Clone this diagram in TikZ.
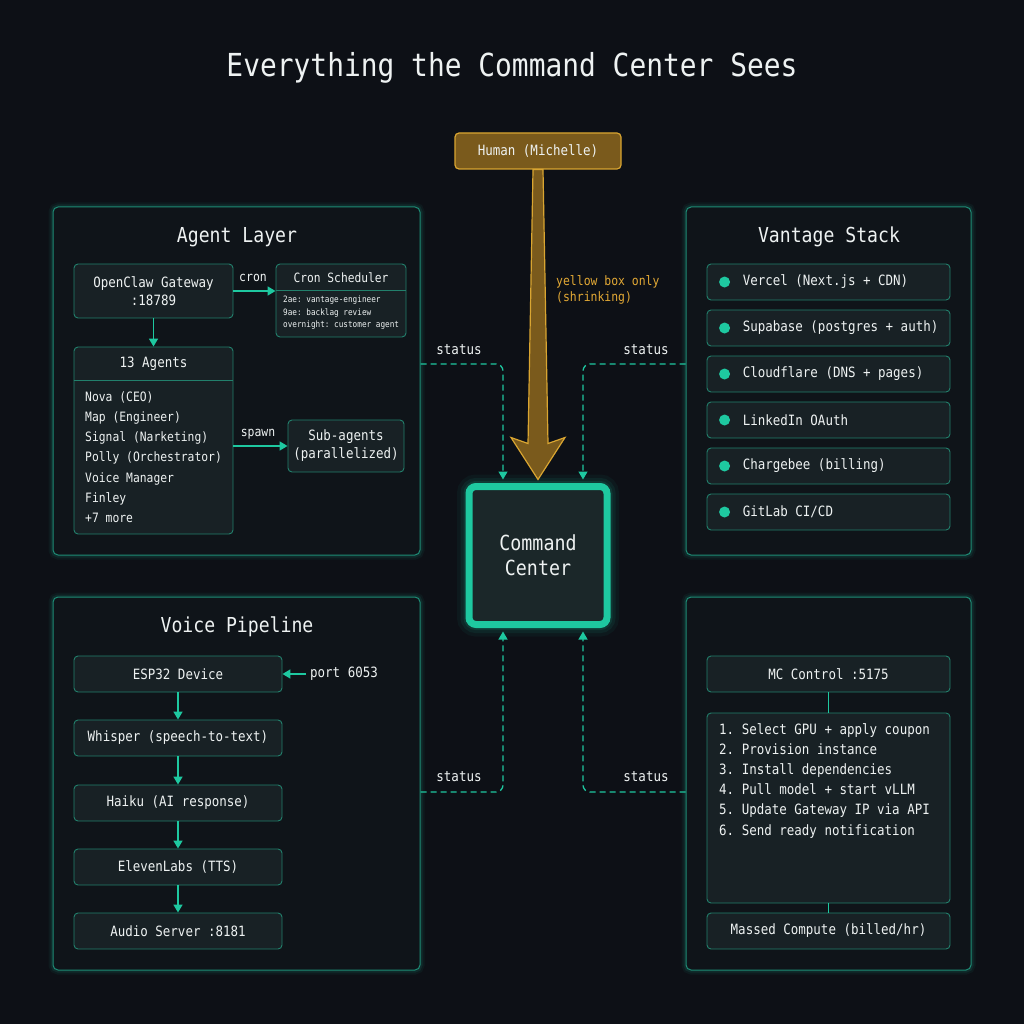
\documentclass[tikz,border=0pt]{standalone}
\usepackage{fontspec}
\setmainfont{DejaVu Sans Mono}[FakeStretch=0.88]
\usetikzlibrary{arrows.meta}
\frenchspacing
\definecolor{bgdark}{HTML}{0D1016}
\definecolor{panelfill}{HTML}{0F1419}
\definecolor{panelline}{HTML}{1E8C76}
\definecolor{boxfill}{HTML}{182125}
\definecolor{boxline}{HTML}{22806C}
\definecolor{ccteal}{HTML}{1EC8A0}
\definecolor{ccfill}{HTML}{1B2729}
\definecolor{txt}{HTML}{EEF2F2}
\definecolor{goldline}{HTML}{D9A531}
\definecolor{goldfill}{HTML}{7A5A1C}
\definecolor{goldtxt}{HTML}{E3A935}
\newcommand{\fsz}[2]{\fontsize{#1}{#2}\selectfont}
\tikzstyle{panel}=[draw=panelline,line width=1pt,rounded corners=5pt,fill=panelfill,inner sep=0pt,
  preaction={draw=ccteal,line width=9pt,opacity=0.06},
  preaction={draw=ccteal,line width=5pt,opacity=0.1}]
\tikzstyle{box}=[draw=boxline,line width=0.9pt,rounded corners=4pt,fill=boxfill,text=txt,
  inner sep=0pt,align=center,font=\fsz{14.2}{18}]
\tikzstyle{lbl}=[text=txt,inner sep=1pt,font=\fsz{14.2}{16}]
\tikzstyle{heading}=[text=txt,inner sep=0pt,font=\fsz{20.6}{24}]
\tikzstyle{arr}=[-{Triangle[width=9pt,length=8pt]},draw=ccteal,line width=1.6pt]
\tikzstyle{link}=[draw=ccteal,line width=1.4pt]
\tikzstyle{status}=[-{Triangle[width=9pt,length=8pt]},draw=ccteal,line width=1.3pt,
  dash pattern=on 6pt off 4pt,rounded corners=7pt]
\begin{document}
\begin{tikzpicture}[x=1pt,y=-1pt]
  \fill[bgdark] (0,0) rectangle (1024,1024);
  \node[text=txt,font=\fsz{31.7}{36}] (title) at (512,68) {Everything the Command Center Sees};

  % four panels
  \node[panel,minimum width=367pt,minimum height=348pt] (agent) at (236.5,381) {};
  \node[panel,minimum width=285pt,minimum height=348pt] (vantage) at (828.5,381) {};
  \node[panel,minimum width=367pt,minimum height=373pt] (voice) at (236.5,783.5) {};
  \node[panel,minimum width=285pt,minimum height=373pt] (compute) at (828.5,783.5) {};
  \node[heading] at (237,237) {Agent Layer};
  \node[heading] at (829,237) {Vantage Stack};
  \node[heading] at (237,627) {Voice Pipeline};

  % command center
  \node[draw=ccteal,line width=7pt,rounded corners=7pt,fill=ccfill,text=txt,align=center,
    minimum size=138pt,inner sep=0pt,font=\fsz{20.8}{25},
    preaction={draw=ccteal,line width=24pt,opacity=0.05},
    preaction={draw=ccteal,line width=17pt,opacity=0.08},
    preaction={draw=ccteal,line width=11pt,opacity=0.12}] (cc) at (538,555.5) {Command\\Center};
  \coordinate (tip) at ([yshift=3.5pt]cc.north);
  \coordinate (ccTL) at ([xshift=-35pt,yshift=3.5pt]cc.north);
  \coordinate (ccTR) at ([xshift=45pt,yshift=3.5pt]cc.north);
  \coordinate (ccBL) at ([xshift=-35pt,yshift=-3.5pt]cc.south);
  \coordinate (ccBR) at ([xshift=45pt,yshift=-3.5pt]cc.south);

  % status connectors
  \coordinate (agS) at (agent.east |- 0,364);
  \coordinate (vaS) at (vantage.west |- 0,364);
  \coordinate (voS) at (voice.east |- 0,792);
  \coordinate (coS) at (compute.west |- 0,792);
  \draw[status] (agS) -| (ccTL);
  \draw[status] (vaS) -| (ccTR);
  \draw[status] (voS) -| (ccBL);
  \draw[status] (coS) -| (ccBR);
  \node[lbl] at (459,350) {status};
  \node[lbl] at (646,350) {status};
  \node[lbl] at (459,777) {status};
  \node[lbl] at (646,777) {status};

  % human and the big arrow
  \node[draw=goldline,line width=1.2pt,rounded corners=4pt,fill=goldfill,text=txt,
    minimum width=166pt,minimum height=36pt,inner sep=0pt,font=\fsz{14.2}{16}] (human) at (538,151) {Human (Michelle)};
  \draw[draw=goldline,line width=1.2pt,fill=goldfill,line join=miter]
    ([xshift=-5pt]human.south) -- ([xshift=5pt]human.south)
    -- ([shift={(10pt,36pt)}]tip) -- ([shift={(27pt,42pt)}]tip) -- (tip)
    -- ([shift={(-27pt,42pt)}]tip) -- ([shift={(-10pt,36pt)}]tip) -- cycle;
  \node[text=goldtxt,anchor=west,align=left,inner sep=0pt,font=\fsz{13}{16}] at (556,290) {yellow box only\\(shrinking)};

  % agent layer
  \node[box,minimum width=159pt,minimum height=54pt] (gw) at (153.5,291) {OpenClaw Gateway\\:18789};
  \node[box,minimum width=130pt,minimum height=73pt] (cron) at (341,300.5) {};
  \node[text=txt,inner sep=0pt,font=\fsz{12.8}{14}] at (341,278) {Cron Scheduler};
  \draw[boxline,line width=0.9pt] (cron.west |- 0,290) -- (cron.east |- 0,290);
  \node[text=txt,anchor=west,align=left,inner sep=0pt,font=\fsz{8.75}{12.5}] at (283,313) {2ae: vantage-engineer\\9ae: backlag review\\overnight: customer agent};
  \node[box,minimum width=159pt,minimum height=187pt] (agents) at (153.5,440.5) {};
  \node[text=txt,inner sep=0pt,font=\fsz{14.2}{16}] at (153.5,364) {13 Agents};
  \draw[boxline,line width=0.9pt] (agents.west |- 0,380) -- (agents.east |- 0,380);
  \node[text=txt,anchor=west,align=left,inner sep=0pt,font=\fsz{12.9}{20.2}] at (85,457) {Nova (CEO)\\Map (Engineer)\\Signal (Narketing)\\Polly (Orchestrator)\\Voice Manager\\Finley\\+7 more};
  \node[box,minimum width=116pt,minimum height=52pt] (sub) at (346,446) {Sub-agents\\(parallelized)};
  \draw[arr] (gw.east) -- (gw.east -| cron.west);
  \draw[arr] (gw) -- (agents);
  \draw[arr] (agents.east |- sub.west) -- (sub.west);
  \node[lbl,font=\fsz{13}{14}] at (253,278) {cron};
  \node[lbl,font=\fsz{13}{14}] at (258,434) {spawn};

  % vantage stack
  \foreach \n/\y/\t in {vercel/282/Vercel (Next.js + CDN),supa/328/Supabase (postgres + auth),
      cloud/374/Cloudflare (DNS + pages),linked/420/LinkedIn OAuth,charge/466/Chargebee (billing),
      gitlab/512/{GitLab CI/CD}}{
    \node[box,minimum width=243pt,minimum height=36pt] (\n) at (828.5,\y) {};
    \fill[ccteal] ([xshift=18pt]\n.west) circle (5.5pt);
    \node[text=txt,anchor=west,inner sep=0pt,font=\fsz{14.2}{16}] at ([xshift=36pt]\n.west) {\t};
  }

  % voice pipeline
  \node[box,minimum width=208pt,minimum height=36pt] (esp) at (178,674) {ESP32 Device};
  \node[box,minimum width=208pt,minimum height=36pt] (whisper) at (178,738) {Whisper (speech-to-text)};
  \node[box,minimum width=208pt,minimum height=36pt] (haiku) at (178,803) {Haiku (AI response)};
  \node[box,minimum width=208pt,minimum height=36pt] (eleven) at (178,867) {ElevenLabs (TTS)};
  \node[box,minimum width=208pt,minimum height=36pt] (audio) at (178,931) {Audio Server :8181};
  \node[lbl,inner sep=4pt] (port) at (344,674) {port 6053};
  \draw[arr] (esp) -- (whisper);
  \draw[arr] (whisper) -- (haiku);
  \draw[arr] (haiku) -- (eleven);
  \draw[arr] (eleven) -- (audio);
  \draw[arr] (port) -- (esp);

  % gpu compute
  \node[box,minimum width=243pt,minimum height=36pt] (mc) at (828.5,674) {MC Control :5175};
  \node[box,minimum width=243pt,minimum height=190pt] (steps) at (828.5,808) {};
  \node[text=txt,anchor=north west,align=left,inner sep=0pt,font=\fsz{14.2}{20.2}] at (719,723) {1. Select GPU + apply coupon\\2. Provision instance\\3. Install dependencies\\4. Pull model + start vLLM\\5. Update Gateway IP via API\\6. Send ready notification};
  \node[box,minimum width=243pt,minimum height=36pt] (massed) at (828.5,931) {Massed Compute (billed/hr)};
  \draw[link] (mc) -- (steps);
  \draw[link] (steps) -- (massed);
\end{tikzpicture}
\end{document}
